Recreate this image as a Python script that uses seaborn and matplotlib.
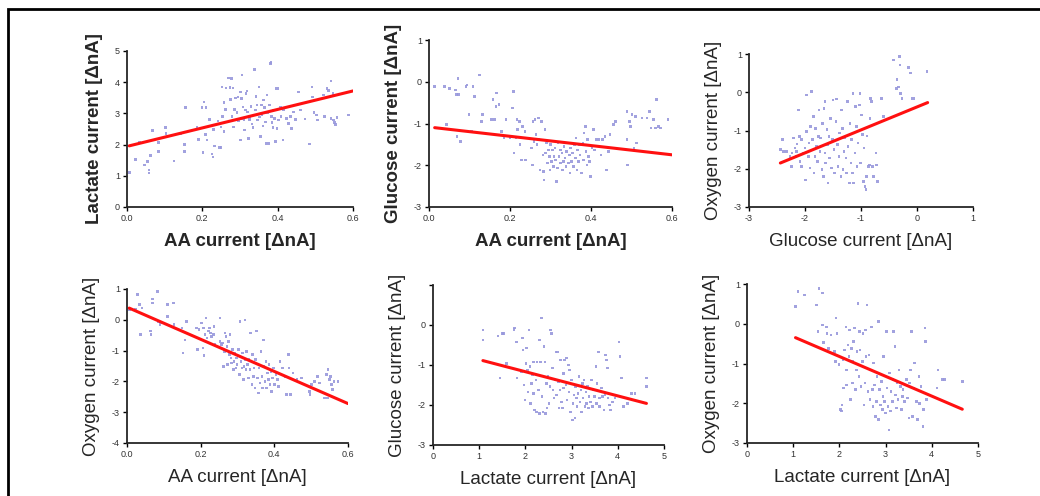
import numpy as np
import pandas as pd
import matplotlib.pyplot as plt
import seaborn as sns
from matplotlib.patches import Rectangle

# ---- panel 1: lactate vs AA ----
p1_x = [0.006, 0.022, 0.033, 0.047, 0.055, 0.058, 0.058, 0.062, 0.067, 0.083, 0.084, 0.103, 0.104, 0.125,
        0.142, 0.155, 0.153, 0.152, 0.186, 0.190, 0.199, 0.202, 0.204, 0.208, 0.210, 0.212, 0.219, 0.226,
        0.228, 0.230, 0.233, 0.242, 0.246, 0.250, 0.250, 0.252, 0.253, 0.257, 0.258, 0.261, 0.263, 0.270,
        0.273, 0.274, 0.277, 0.279, 0.281, 0.283, 0.285, 0.288, 0.292, 0.295, 0.296, 0.301, 0.301, 0.304,
        0.305, 0.305, 0.308, 0.311, 0.312, 0.314, 0.316, 0.319, 0.320, 0.323, 0.325, 0.327, 0.329, 0.332,
        0.335, 0.338, 0.341, 0.343, 0.345, 0.347, 0.350, 0.352, 0.354, 0.357, 0.358, 0.361, 0.363, 0.365,
        0.367, 0.369, 0.372, 0.373, 0.376, 0.379, 0.381, 0.382, 0.383, 0.385, 0.388, 0.389, 0.391, 0.394,
        0.396, 0.398, 0.401, 0.403, 0.407, 0.409, 0.414, 0.416, 0.423, 0.429, 0.434, 0.436, 0.442, 0.447,
        0.456, 0.460, 0.473, 0.485, 0.491, 0.493, 0.496, 0.503, 0.506, 0.522, 0.524, 0.531, 0.535, 0.542,
        0.542, 0.547, 0.549, 0.551, 0.553, 0.558, 0.588]
p1_y = [1.10, 1.53, 2.07, 1.35, 1.46, 1.19, 1.09, 1.65, 2.46, 2.06, 1.78, 2.54, 2.36, 1.48,
        2.34, 3.19, 2.01, 1.78, 2.54, 2.17, 3.19, 1.74, 3.37, 2.33, 3.19, 2.15, 2.81, 1.70,
        1.60, 2.49, 1.96, 2.76, 1.91, 1.91, 2.57, 3.85, 2.91, 3.34, 2.42, 3.13, 3.82, 4.14,
        3.83, 3.45, 4.12, 2.91, 3.82, 2.57, 3.13, 3.50, 3.02, 3.53, 2.77, 2.15, 3.69, 3.48,
        4.23, 2.84, 3.21, 2.79, 2.47, 3.11, 3.64, 3.72, 3.05, 2.20, 2.81, 2.89, 3.23, 2.66,
        2.55, 4.40, 3.11, 3.55, 3.27, 2.79, 3.85, 2.89, 2.26, 3.27, 2.95, 2.60, 3.43, 3.18,
        2.73, 2.04, 3.59, 3.02, 2.04, 3.27, 4.59, 4.63, 2.91, 2.70, 2.55, 3.11, 2.84, 2.10,
        3.80, 2.52, 3.80, 2.79, 3.19, 2.91, 2.15, 3.11, 2.84, 2.68, 2.91, 2.52, 3.05, 2.81,
        3.69, 3.11, 2.82, 2.02, 3.85, 3.53, 3.02, 2.95, 2.79, 3.59, 2.91, 3.80, 3.74, 4.04,
        2.84, 3.64, 2.79, 2.70, 2.65, 2.87, 2.95]
p1_fit_x = [0.006, 0.6]
p1_fit_y = [1.96, 3.72]

# ---- panel 2: glucose vs AA ----
p2_x = [0.014, 0.039, 0.043, 0.051, 0.066, 0.068, 0.069, 0.072, 0.073, 0.078, 0.091, 0.094, 0.099, 0.105,
        0.109, 0.113, 0.125, 0.130, 0.132, 0.154, 0.158, 0.162, 0.165, 0.167, 0.173, 0.179, 0.185, 0.190,
        0.200, 0.206, 0.208, 0.210, 0.215, 0.217, 0.219, 0.223, 0.225, 0.229, 0.231, 0.233, 0.237, 0.239,
        0.241, 0.253, 0.256, 0.257, 0.259, 0.262, 0.264, 0.267, 0.270, 0.272, 0.274, 0.278, 0.281, 0.282,
        0.284, 0.286, 0.288, 0.290, 0.292, 0.295, 0.297, 0.299, 0.300, 0.303, 0.305, 0.307, 0.309, 0.311,
        0.313, 0.315, 0.317, 0.319, 0.321, 0.324, 0.325, 0.328, 0.329, 0.332, 0.333, 0.336, 0.338, 0.340,
        0.342, 0.344, 0.347, 0.348, 0.350, 0.352, 0.355, 0.357, 0.359, 0.361, 0.363, 0.365, 0.367, 0.369,
        0.372, 0.373, 0.377, 0.380, 0.382, 0.383, 0.386, 0.388, 0.390, 0.391, 0.394, 0.396, 0.399, 0.402,
        0.406, 0.408, 0.412, 0.418, 0.425, 0.429, 0.435, 0.439, 0.443, 0.447, 0.456, 0.460, 0.489, 0.489,
        0.490, 0.495, 0.497, 0.501, 0.506, 0.510, 0.512, 0.526, 0.538, 0.545, 0.548, 0.555, 0.559, 0.562,
        0.567, 0.571, 0.590]
p2_y = [-0.12, -0.12, -1.03, -0.16, -0.20, -0.31, -1.31, 0.08, -0.31, -1.43, -0.12, -0.08, -0.79, -1.19,
        -0.12, -0.35, 0.16, -0.95, -0.79, -0.91, -0.43, -0.91, -0.59, -0.27, -0.55, -1.19, -1.35, -0.91,
        -1.35, -0.63, -0.24, -1.71, -1.35, -0.91, -1.15, -0.95, -1.51, -1.87, -1.07, -1.35, -1.19, -1.87,
        -1.35, -1.59, -1.99, -0.95, -1.43, -0.91, -1.27, -1.51, -0.87, -1.39, -2.11, -0.95, -1.75, -2.15,
        -2.35, -1.15, -1.71, -1.47, -1.95, -1.63, -1.79, -2.11, -1.51, -1.91, -1.63, -2.03, -1.79, -1.59,
        -1.87, -2.39, -2.07, -1.47, -1.79, -1.95, -1.63, -1.71, -2.11, -1.91, -1.55, -1.83, -2.03, -1.67,
        -1.47, -1.95, -1.75, -2.19, -1.59, -1.91, -1.71, -2.03, -1.51, -1.83, -1.35, -2.11, -1.63, -1.91,
        -1.51, -1.75, -2.19, -1.47, -1.87, -1.23, -1.07, -1.67, -1.99, -1.39, -1.79, -1.91, -2.27, -1.59,
        -1.15, -1.63, -1.39, -1.39, -1.75, -1.39, -1.31, -2.11, -1.67, -1.27, -1.03, -0.95, -0.71, -1.39,
        -1.99, -0.95, -1.07, -0.79, -1.59, -0.83, -1.47, -0.87, -0.87, -0.71, -1.11, -0.91, -1.11, -0.43,
        -1.07, -1.11, -0.90]
p2_fit_x = [0.014, 0.6]
p2_fit_y = [-1.10, -1.75]

# ---- panel 3: oxygen vs glucose ----
p3_x = [-2.44, -2.40, -2.38, -2.33, -2.27, -2.24, -2.23, -2.21, -2.18, -2.16, -2.15, -2.14, -2.12, -2.10,
        -2.09, -2.06, -2.06, -2.03, -2.00, -1.99, -1.97, -1.97, -1.94, -1.93, -1.91, -1.90, -1.88, -1.87,
        -1.85, -1.84, -1.82, -1.81, -1.79, -1.78, -1.76, -1.75, -1.73, -1.72, -1.70, -1.69, -1.67, -1.66,
        -1.64, -1.64, -1.63, -1.61, -1.60, -1.59, -1.57, -1.56, -1.54, -1.53, -1.51, -1.50, -1.48, -1.47,
        -1.45, -1.44, -1.42, -1.41, -1.39, -1.38, -1.36, -1.35, -1.33, -1.32, -1.30, -1.29, -1.27, -1.26,
        -1.24, -1.23, -1.21, -1.20, -1.18, -1.17, -1.15, -1.14, -1.13, -1.11, -1.10, -1.08, -1.07, -1.05,
        -1.03, -1.02, -1.01, -0.99, -0.97, -0.96, -0.95, -0.93, -0.91, -0.90, -0.89, -0.87, -0.85, -0.84,
        -0.83, -0.81, -0.79, -0.78, -0.73, -0.72, -0.71, -0.63, -0.60, -0.42, -0.37, -0.36, -0.33, -0.31,
        -0.30, -0.29, -0.27, -0.15, -0.12, -0.09, -0.05, 0.18]
p3_y = [-1.49, -1.24, -1.55, -1.55, -1.68, -1.94, -1.59, -1.20, -1.46, -1.68, -1.55, -1.35, -0.46, -1.16,
        -1.81, -1.24, -1.94, -1.59, -1.46, -2.29, -0.07, -1.03, -1.68, -1.33, -1.98, -0.90, 0.02, -1.24,
        -0.63, -2.11, -1.68, -0.94, -1.42, -1.81, -1.16, -0.46, -1.55, -1.20, -2.02, -0.81, -2.20, -0.42,
        -0.24, -1.59, -1.85, -0.98, -1.37, -2.37, -1.16, -1.72, -0.68, -1.98, -1.24, -0.20, -1.50, -2.11,
        -0.77, -0.18, -1.37, -1.94, -1.68, -1.07, -2.20, -0.46, -0.94, -2.02, -1.55, -1.20, -1.72, -2.11,
        -0.24, -1.42, -2.37, -0.81, -1.85, -1.24, -2.11, -0.03, -2.37, -1.59, -0.37, -0.90, -1.94, -1.33,
        -0.33, -0.03, -1.85, -0.59, -1.11, -2.33, -1.46, -2.46, -2.55, -2.20, -1.14, -1.94, -1.90, -0.68,
        -0.16, -0.24, -1.94, -2.20, -1.59, -1.90, -2.33, -0.16, -0.63, 0.84, 0.10, 0.34, 0.14, 0.93,
        0.71, -0.03, -0.16, 0.65, 0.50, -0.16, -0.16, 0.54]
p3_fit_x = [-2.44, 0.19]
p3_fit_y = [-1.85, -0.27]

# ---- panel 4: oxygen vs AA ----
p4_x = [0.006, 0.023, 0.029, 0.034, 0.036, 0.041, 0.063, 0.065, 0.069, 0.070, 0.083, 0.086, 0.090, 0.095,
        0.110, 0.110, 0.126, 0.128, 0.149, 0.152, 0.158, 0.162, 0.189, 0.191, 0.196, 0.203, 0.206, 0.208,
        0.209, 0.212, 0.215, 0.217, 0.221, 0.224, 0.227, 0.230, 0.235, 0.236, 0.239, 0.252, 0.253, 0.257,
        0.260, 0.262, 0.264, 0.266, 0.269, 0.271, 0.273, 0.275, 0.278, 0.280, 0.282, 0.284, 0.287, 0.289,
        0.290, 0.293, 0.296, 0.298, 0.299, 0.302, 0.305, 0.307, 0.309, 0.312, 0.314, 0.316, 0.318, 0.320,
        0.320, 0.323, 0.325, 0.327, 0.330, 0.331, 0.334, 0.336, 0.339, 0.340, 0.343, 0.345, 0.347, 0.349,
        0.352, 0.354, 0.357, 0.358, 0.361, 0.364, 0.366, 0.368, 0.370, 0.372, 0.375, 0.377, 0.379, 0.381,
        0.384, 0.386, 0.388, 0.391, 0.393, 0.395, 0.397, 0.400, 0.404, 0.408, 0.411, 0.415, 0.422, 0.429,
        0.433, 0.438, 0.440, 0.444, 0.451, 0.461, 0.473, 0.495, 0.497, 0.501, 0.509, 0.517, 0.523, 0.536,
        0.542, 0.544, 0.546, 0.549, 0.553, 0.555, 0.558, 0.562, 0.573]
p4_y = [0.33, 0.33, 0.82, 0.49, -0.48, 0.38, -0.37, -0.48, 0.68, 0.55, 0.92, -0.05, -0.16, -0.10,
        0.11, 0.49, 0.55, -0.16, -0.27, -1.08, -0.65, -0.05, -0.27, -0.97, -0.32, -0.10, -0.92, -0.27,
        -1.16, -0.48, 0.06, -0.59, -0.37, -0.27, -0.43, -0.54, -0.48, -0.21, -0.81, 0.06, -0.70, -0.81,
        -0.75, -1.51, -1.02, -0.43, -0.54, -0.86, -1.46, -0.70, -1.13, -0.48, -1.24, -1.40, -0.97, -1.62,
        -1.35, -1.08, -1.56, -1.24, -1.46, -0.97, -1.78, -0.05, -1.35, -1.56, -1.08, -1.94, -1.51, 0.00,
        -1.29, -1.62, -1.02, -1.46, -1.89, -1.29, -1.62, -0.43, -2.11, -1.13, -1.84, -1.56, -2.21, -1.29,
        -0.37, -1.89, -2.38, -1.56, -2.05, -1.02, -1.84, -2.21, -0.65, -1.51, -2.00, -1.35, -2.21, -1.73,
        -1.94, -1.46, -2.11, -1.67, -2.32, -1.89, -1.56, -2.11, -1.78, -1.94, -2.16, -1.35, -1.56, -1.84,
        -2.43, -1.13, -1.56, -2.43, -1.73, -1.94, -1.89, -2.32, -2.43, -2.11, -2.00, -1.84, -2.05, -2.54,
        -1.78, -2.54, -1.62, -1.94, -1.84, -2.11, -2.27, -2.00, -2.00]
p4_fit_x = [0.006, 0.6]
p4_fit_y = [0.38, -2.72]

# ---- panel 5: glucose vs lactate ----
p5_x = [1.08, 1.08, 1.41, 1.45, 1.50, 1.53, 1.59, 1.75, 1.77, 1.81, 1.82, 1.91, 1.94, 1.95, 1.97, 1.99,
        2.01, 2.02, 2.04, 2.06, 2.08, 2.10, 2.11, 2.13, 2.15, 2.17, 2.18, 2.20, 2.23, 2.24, 2.25, 2.28,
        2.30, 2.31, 2.33, 2.35, 2.36, 2.38, 2.40, 2.42, 2.43, 2.46, 2.47, 2.49, 2.51, 2.53, 2.54, 2.57,
        2.59, 2.60, 2.62, 2.64, 2.66, 2.67, 2.69, 2.71, 2.73, 2.75, 2.76, 2.78, 2.80, 2.82, 2.83, 2.85,
        2.88, 2.89, 2.90, 2.93, 2.94, 2.96, 2.98, 3.00, 3.02, 3.03, 3.05, 3.07, 3.09, 3.11, 3.12, 3.14,
        3.16, 3.18, 3.20, 3.22, 3.24, 3.25, 3.27, 3.29, 3.31, 3.32, 3.34, 3.36, 3.38, 3.41, 3.43, 3.45,
        3.47, 3.50, 3.53, 3.54, 3.55, 3.58, 3.60, 3.61, 3.65, 3.67, 3.70, 3.72, 3.74, 3.76, 3.78, 3.79,
        3.82, 3.84, 3.88, 3.94, 4.03, 4.05, 4.08, 4.12, 4.21, 4.30, 4.37, 4.62, 4.62]
p5_y = [-0.13, -0.38, -0.28, -1.33, -0.21, -0.21, -0.96, -0.11, -0.08, -0.42, -1.33, -1.17, -0.33, -0.63,
        -1.50, -1.88, -0.96, -0.58, -1.13, -1.67, -0.13, -1.04, -1.96, -1.46, -1.25, -1.71, -0.92, -2.13,
        -1.38, -2.17, -0.92, -1.63, -0.38, -2.21, -0.92, 0.17, -1.79, -2.17, -0.54, -0.92, -2.21, -1.46,
        -2.08, -1.29, -1.96, -1.54, -0.13, -0.21, -1.08, -1.63, -1.83, -1.38, -0.67, -1.75, -0.67, -1.42,
        -2.08, -1.63, -0.88, -1.92, -2.08, -1.21, -1.58, -0.88, -1.50, -0.83, -1.88, -1.00, -1.67, -1.13,
        -2.17, -1.38, -2.38, -1.96, -1.75, -2.33, -1.54, -1.83, -2.04, -1.71, -1.29, -1.92, -1.63, -2.17,
        -1.46, -1.83, -1.38, -2.04, -1.67, -1.96, -1.54, -2.08, -1.79, -1.92, -1.38, -2.04, -1.63, -1.79,
        -1.04, -1.96, -1.46, -0.67, -1.83, -2.04, -1.58, -1.79, -2.13, -1.75, -0.75, -0.88, -1.08, -1.83,
        -2.00, -2.13, -1.92, -1.83, -0.42, -0.79, -1.33, -2.04, -1.96, -1.71, -1.71, -1.33, -1.54]
p5_fit_x = [1.08, 4.62]
p5_fit_y = [-0.89, -1.96]

# ---- panel 6: oxygen vs lactate ----
p6_x = [1.05, 1.10, 1.25, 1.50, 1.54, 1.56, 1.63, 1.64, 1.66, 1.72, 1.73, 1.77, 1.82, 1.90, 1.92, 1.93,
        1.95, 1.99, 2.02, 2.04, 2.06, 2.08, 2.09, 2.11, 2.14, 2.15, 2.16, 2.19, 2.21, 2.22, 2.24, 2.26,
        2.28, 2.29, 2.31, 2.33, 2.35, 2.37, 2.38, 2.40, 2.42, 2.44, 2.45, 2.47, 2.50, 2.51, 2.53, 2.55,
        2.57, 2.58, 2.60, 2.62, 2.64, 2.66, 2.67, 2.69, 2.71, 2.73, 2.74, 2.76, 2.78, 2.80, 2.81, 2.84,
        2.85, 2.87, 2.89, 2.91, 2.93, 2.94, 2.96, 2.98, 3.00, 3.02, 3.03, 3.05, 3.07, 3.09, 3.10, 3.12,
        3.15, 3.16, 3.17, 3.20, 3.22, 3.23, 3.25, 3.27, 3.29, 3.32, 3.34, 3.36, 3.38, 3.41, 3.45, 3.48,
        3.51, 3.52, 3.54, 3.56, 3.58, 3.61, 3.63, 3.67, 3.69, 3.72, 3.74, 3.77, 3.81, 3.82, 3.85, 3.87,
        3.88, 4.11, 4.13, 4.23, 4.28, 4.66]
p6_y = [0.43, 0.81, 0.72, 0.47, -0.20, 0.89, -0.03, 0.77, -0.47, -0.08, -0.24, -0.62, -0.28, -0.70,
        -0.95, 0.14, -0.24, -1.03, -2.16, -2.20, -2.04, -0.91, -1.62, -0.66, -0.08, -1.16, -1.54, -0.53,
        -0.83, -0.16, -1.91, -0.62, -1.49, -0.95, -0.45, -0.11, -1.66, -1.16, -0.70, 0.51, -1.33, -0.20,
        -0.66, -1.58, -0.95, -0.24, -2.04, -1.49, -0.16, -0.83, 0.47, -1.70, -0.79, -1.91, -1.16, -0.08,
        -1.66, -2.08, -0.99, -1.54, -2.33, -1.95, -1.33, -2.41, 0.06, -1.66, -2.04, -1.45, -2.16, -1.83,
        -0.83, -1.95, -2.25, -0.20, -1.62, -2.08, -2.67, -1.24, -2.20, -1.70, -1.95, -1.41, -0.20, -0.57,
        -1.79, -2.12, -1.49, -1.91, -1.16, -1.58, -2.16, -1.83, -1.66, -1.95, -1.41, -1.87, -2.37, -1.49,
        -1.16, -0.20, -2.33, -1.62, -0.99, -1.95, -2.41, -1.33, -2.00, -1.58, -2.58, -2.16, -0.11, -0.45,
        -1.91, -1.62, -1.16, -1.41, -1.41, -1.45]
p6_fit_x = [1.05, 4.66]
p6_fit_y = [-0.35, -2.15]

# axis box in pixels: left, right, top, bottom
panels = [
    dict(x=p1_x, y=p1_y, fx=p1_fit_x, fy=p1_fit_y, box=(127, 353, 51, 207),
         xlim=(0, 0.6), ylim=(0, 5), xt=[0.0, 0.2, 0.4, 0.6], xtl=["0.0", "0.2", "0.4", "0.6"],
         yt=[0, 1, 2, 3, 4, 5], ytl=["0", "1", "2", "3", "4", "5"],
         xl="AA current [ΔnA]", yl="Lactate current [ΔnA]", bold=True),
    dict(x=p2_x, y=p2_y, fx=p2_fit_x, fy=p2_fit_y, box=(429, 672, 40, 207),
         xlim=(0, 0.6), ylim=(-3, 1), xt=[0.0, 0.2, 0.4, 0.6], xtl=["0.0", "0.2", "0.4", "0.6"],
         yt=[-3, -2, -1, 0, 1], ytl=["-3", "-2", "-1", "0", "1"],
         xl="AA current [ΔnA]", yl="Glucose current [ΔnA]", bold=True),
    dict(x=p3_x, y=p3_y, fx=p3_fit_x, fy=p3_fit_y, box=(749, 973, 54, 207),
         xlim=(-3, 1), ylim=(-3, 1), xt=[-3, -2, -1, 0, 1], xtl=["-3", "-2", "-1", "0", "1"],
         yt=[-3, -2, -1, 0, 1], ytl=["-3", "-2", "-1", "0", "1"],
         xl="Glucose current [ΔnA]", yl="Oxygen current [ΔnA]", bold=False),
    dict(x=p4_x, y=p4_y, fx=p4_fit_x, fy=p4_fit_y, box=(127, 348, 289, 443),
         xlim=(0, 0.6), ylim=(-4, 1), xt=[0.0, 0.2, 0.4, 0.6], xtl=["0.0", "0.2", "0.4", "0.6"],
         yt=[-4, -3, -2, -1, 0, 1], ytl=["-4", "-3", "-2", "-1", "0", "1"],
         xl="AA current [ΔnA]", yl="Oxygen current [ΔnA]", bold=False),
    dict(x=p5_x, y=p5_y, fx=p5_fit_x, fy=p5_fit_y, box=(433, 664, 285, 445),
         xlim=(0, 5), ylim=(-3, 1), xt=[0, 1, 2, 3, 4, 5], xtl=["0", "1", "2", "3", "4", "5"],
         yt=[-3, -2, -1, 0, 1], ytl=["-3", "-2", "-1", "0", ""],
         xl="Lactate current [ΔnA]", yl="Glucose current [ΔnA]", bold=False),
    dict(x=p6_x, y=p6_y, fx=p6_fit_x, fy=p6_fit_y, box=(747, 978, 284, 443),
         xlim=(0, 5), ylim=(-3, 1), xt=[0, 1, 2, 3, 4, 5], xtl=["0", "1", "2", "3", "4", "5"],
         yt=[-3, -2, -1, 0, 1], ytl=["-3", "-2", "-1", "0", "1"],
         xl="Lactate current [ΔnA]", yl="Oxygen current [ΔnA]", bold=False),
]

sns.set_style("ticks")
plt.rcParams['font.family'] = ['Liberation Sans', 'DejaVu Sans']

W, H = 1040, 496
fig = plt.figure(figsize=(W / 100, H / 100), dpi=100)

# outer frame
fig.add_artist(Rectangle((8 / W, -0.05), 1.1, 1 - 9 / H + 0.05, transform=fig.transFigure,
                         fill=False, edgecolor="black", linewidth=2.0))

for p in panels:
    l, r, t, b = p["box"]
    ax = fig.add_axes([l / W, 1 - b / H, (r - l) / W, (b - t) / H])
    df = pd.DataFrame({"x": p["x"], "y": p["y"]})
    sns.scatterplot(data=df, x="x", y="y", ax=ax, s=3.5, marker="s", color="#9898dc",
                    edgecolor="none", alpha=0.9)
    fit = pd.DataFrame({"x": p["fx"], "y": p["fy"]})
    sns.lineplot(data=fit, x="x", y="y", ax=ax, color="#ff1010", linewidth=2.2)
    ax.set_xlim(p["xlim"])
    ax.set_ylim(p["ylim"])
    ax.set_xticks(p["xt"])
    ax.set_xticklabels(p["xtl"])
    ax.set_yticks(p["yt"])
    ax.set_yticklabels(p["ytl"])
    ax.tick_params(labelsize=6.5, length=3, width=1.0, colors="black", labelcolor="#333333", pad=2)
    for s in ["left", "bottom"]:
        ax.spines[s].set_linewidth(1.3)
    sns.despine(ax=ax)
    wt = "bold" if p["bold"] else "normal"
    ax.set_xlabel(p["xl"], fontsize=13.5, fontweight=wt, labelpad=7)
    ax.set_ylabel(p["yl"], fontsize=13.5, fontweight=wt, labelpad=9)

fig.savefig("out.png", dpi=100)
